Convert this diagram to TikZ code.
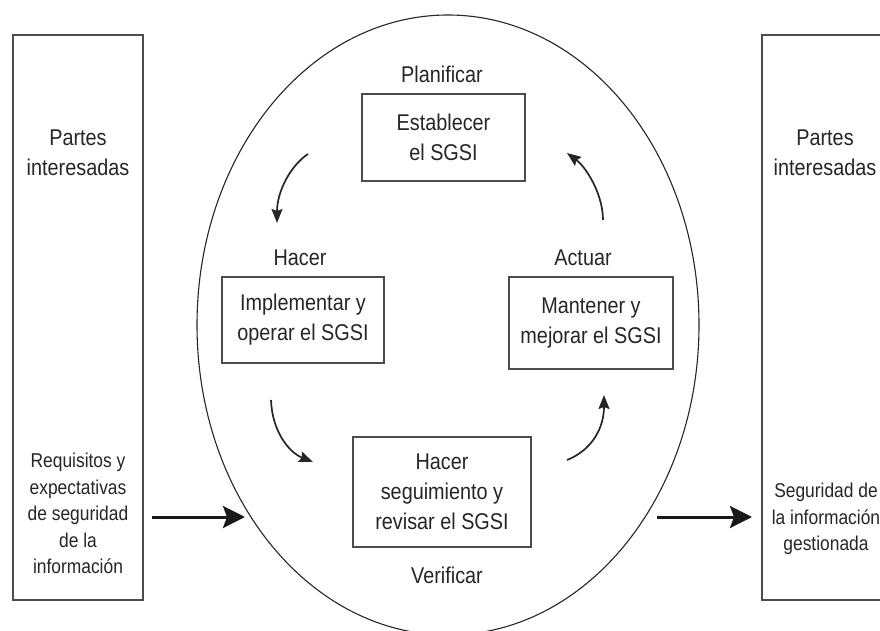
\documentclass[tikz,border=0pt]{standalone}
\usepackage{fontspec}
\setmainfont{Liberation Sans}[FakeStretch=0.87]
\usetikzlibrary{arrows.meta}
\begin{document}
\begin{tikzpicture}[x=1pt,y=-1pt,
  txt/.style={font=\fontsize{22.8}{30}\selectfont, text=black!85, align=center, inner sep=0pt},
  smalltxt/.style={font=\fontsize{20}{26.5}\selectfont, text=black!85, align=center, inner sep=0pt},
  stepbox/.style={draw=black!70, line width=1.1pt, txt},
  frame/.style={draw=black!70, line width=1.1pt},
  cyc/.style={line width=1.7pt, draw=black!85, -{Stealth[length=14pt,width=11pt,inset=2pt]}},
  flow/.style={line width=3pt, draw=black!90, -{Stealth[length=22pt,width=22pt,inset=4pt]}}
]
\useasboundingbox (0,0) rectangle (880,631);
\fill[white] (0,0) rectangle (880,631);

% side frames
\node[frame, minimum width=130pt, minimum height=565pt, inner sep=0pt] (lbox) at (78,317.5) {};
\node[frame, minimum width=256pt, minimum height=565pt, inner sep=0pt] (rbox) at (890,317.5) {};

% big ellipse
\draw[draw=black!85, line width=1.1pt] (448,325) ellipse [x radius=251, y radius=310];

% side texts
\node[txt] (lp) at (78,153) {Partes\\interesadas};
\node[smalltxt] (lreq) at (78,513.5) {Requisitos y\\expectativas\\de seguridad\\de la\\información};
\node[txt] (rp) at (825,153) {Partes\\interesadas};
\node[smalltxt] (rseg) at (826,519) {Seguridad de\\la información\\gestionada};

% phase labels
\node[txt] (plan) at (442,74) {Planificar};
\node[txt] (hac) at (300,258) {Hacer};
\node[txt] (act) at (583,258) {Actuar};
\node[txt] (ver) at (447,575) {Verificar};

% phase boxes
\node[stepbox, minimum width=163pt, minimum height=87pt] (est) at (443.5,137.5) {Establecer\\el SGSI};
\node[stepbox, minimum width=162pt, minimum height=86pt] (imp) at (303,320) {Implementar y\\operar el SGSI};
\node[stepbox, minimum width=164pt, minimum height=92pt] (man) at (591,323) {Mantener y\\mejorar el SGSI};
\node[stepbox, minimum width=178pt, minimum height=110pt] (seg) at (442,492) {Hacer\\seguimiento y\\revisar el SGSI};

% cycle arrows
\coordinate (a1s) at (308,154);
\coordinate (a1e) at (277,223);
\coordinate (a2s) at (603,220);
\coordinate (a2e) at (567,153);
\coordinate (a3s) at (271,400);
\coordinate (a3e) at (313,462);
\coordinate (a4s) at (567,460);
\coordinate (a4e) at (604,395);
\draw[cyc] (a1s) .. controls (290,166) and (277,192) .. (a1e);
\draw[cyc] (a2s) .. controls (603,195) and (587,168) .. (a2e);
\draw[cyc] (a3s) .. controls (272,430) and (288,452) .. (a3e);
\draw[cyc] (a4s) .. controls (592,450) and (604,428) .. (a4e);

% flow arrows
\coordinate (inL) at (152,517);
\coordinate (inR) at (245,517);
\coordinate (outL) at (657,517);
\coordinate (outR) at (752,517);
\draw[flow] (inL) -- (inR);
\draw[flow] (outL) -- (outR);
\end{tikzpicture}
\end{document}
